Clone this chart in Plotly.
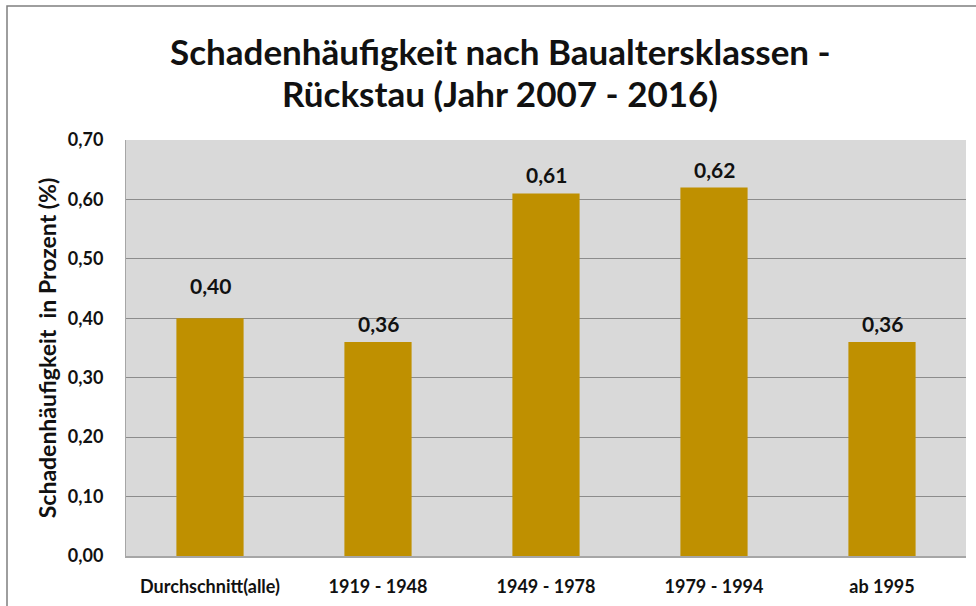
import plotly.graph_objects as go

categories = ["Durchschnitt(alle)", "1919 - 1948", "1949 - 1978", "1979 - 1994", "ab 1995"]
values = [0.40, 0.36, 0.61, 0.62, 0.36]
tick_vals = [0.0, 0.1, 0.2, 0.3, 0.4, 0.5, 0.6, 0.7]
tick_text = ["0,00", "0,10", "0,20", "0,30", "0,40", "0,50", "0,60", "0,70"]
labels = [f"{v:.2f}".replace(".", ",") for v in values]
label_shift = [18, 4, 4, 4, 4]  # pixel offset of the value labels above the bars

FONT = "Lato"
W, H = 976, 606
L, R, T, B = 126, 10, 140, 50
pw, ph = W - L - R, H - T - B

fig = go.Figure()
fig.add_trace(go.Bar(
    x=categories, y=values, marker=dict(color="#bf9000", line=dict(width=0)),
    width=0.4, hoverinfo="x+y",
))

def px_x(x):
    return (x - L) / pw

def px_y(y):
    return (H - B - y) / ph

annotations = []
for c, v, t, s in zip(categories, values, labels, label_shift):
    annotations.append(dict(x=c, y=v, xref="x", yref="y", text=t, showarrow=False,
                            yanchor="bottom", yshift=s,
                            font=dict(family=FONT, size=21, color="#111111", weight="bold")))
annotations.append(dict(x=px_x(500), y=px_y(51), xref="paper", yref="paper", yanchor="middle",
                        text="Schadenhäufigkeit nach Baualtersklassen -", showarrow=False,
                        font=dict(family=FONT, size=35, color="#111111", weight="bold")))
annotations.append(dict(x=px_x(500), y=px_y(93), xref="paper", yref="paper", yanchor="middle",
                        text="Rückstau (Jahr 2007 - 2016)", showarrow=False,
                        font=dict(family=FONT, size=35, color="#111111", weight="bold")))

fig.update_layout(
    width=W, height=H,
    margin=dict(l=L, r=R, t=T, b=B),
    paper_bgcolor="white", plot_bgcolor="#d9d9d9",
    showlegend=False,
    font=dict(family=FONT, color="#111111"),
    xaxis=dict(
        showgrid=False, showline=True, linecolor="#a6a6a6", linewidth=2,
        ticks="", tickfont=dict(family=FONT, size=18, color="#111111", weight="bold"),
        ticklabelstandoff=13,
    ),
    yaxis=dict(
        range=[0, 0.7], tickvals=tick_vals, ticktext=tick_text,
        showgrid=True, gridcolor="#8c8c8c", gridwidth=1,
        showline=True, linecolor="#a6a6a6", linewidth=1,
        zeroline=False, ticks="",
        tickfont=dict(family=FONT, size=18, color="#111111", weight="bold"),
        ticklabelstandoff=18,
        title=dict(text="Schadenhäufigkeit  in Prozent (%)",
                   font=dict(family=FONT, size=23, color="#111111", weight="bold"), standoff=4),
    ),
    annotations=annotations,
    shapes=[dict(type="rect", xref="paper", yref="paper",
                 x0=px_x(7), x1=px_x(990), y0=px_y(620), y1=px_y(6),
                 line=dict(color="#7f7f7f", width=1.5), fillcolor="rgba(0,0,0,0)", layer="below")],
)

fig.write_html("out.html", config={"displayModeBar": False},
               post_script="document.body.style.margin='0';document.body.style.overflow='hidden';")
